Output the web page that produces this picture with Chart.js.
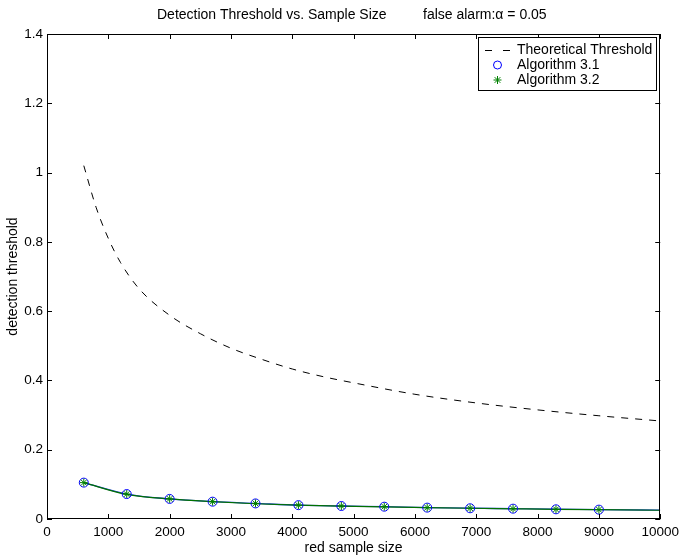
<!DOCTYPE html>
<html>
<head>
<meta charset="utf-8">
<script src="https://cdn.jsdelivr.net/npm/chart.js@4.4.1/dist/chart.umd.min.js"></script>
<style>
  html, body { margin: 0; padding: 0; background: #fff; }
  #wrap { width: 684px; height: 557px; }
</style>
</head>
<body>
<div id="wrap"><canvas id="thrCanvas" width="684" height="557"></canvas></div>
<script>
// theoretical threshold (dashed curve)
var sizeTheory = [600, 800, 1000, 1200, 1500, 2000, 2500, 3000, 3500, 4000, 4500, 5000, 6000, 7000, 8000, 9000, 10000];
var thrTheory = [1.02, 0.90, 0.81, 0.74, 0.665, 0.588, 0.535, 0.493, 0.461, 0.433, 0.411, 0.393, 0.36, 0.335, 0.315, 0.298, 0.283];

// algorithm markers
var sizeAlg = [600, 1300, 2000, 2700, 3400, 4100, 4800, 5500, 6200, 6900, 7600, 8300, 9000];
var thrAlg31 = [0.105, 0.072, 0.058, 0.050, 0.045, 0.040, 0.0375, 0.0355, 0.0328, 0.031, 0.0298, 0.028, 0.027];
var thrAlg32 = [0.105, 0.072, 0.058, 0.050, 0.045, 0.040, 0.0375, 0.0355, 0.0328, 0.031, 0.0298, 0.028, 0.027];

// fitted curves under the markers (run on to 10000)
var sizeFit = [600, 1300, 2000, 2700, 3400, 4100, 4800, 5500, 6200, 6900, 7600, 8300, 9000, 10000];
var thrFit31 = [0.105, 0.072, 0.058, 0.050, 0.045, 0.040, 0.0375, 0.0355, 0.0330, 0.0312, 0.0298, 0.0283, 0.0270, 0.0255];
var thrFit32 = [0.105, 0.071, 0.058, 0.050, 0.044, 0.040, 0.0372, 0.0350, 0.0328, 0.0310, 0.0295, 0.0280, 0.0268, 0.0252];

var xTicks = [0, 1000, 2000, 3000, 4000, 5000, 6000, 7000, 8000, 9000, 10000];
var yTicks = [0, 0.2, 0.4, 0.6, 0.8, 1, 1.2, 1.4];

var FAMILY = "'Liberation Sans', Arial, Helvetica, sans-serif";
var FONT = "14px " + FAMILY;

var pairs = function (xs, ys) {
    var out = [];
    for (var i = 0; i < xs.length; i++) out.push({ x: xs[i], y: ys[i] });
    return out;
};

// box, inward ticks, titles and legend in the old matlab look
var matlabFrame = {
    id: 'matlabFrame',
    afterDatasetsDraw: function (chart) {
        var ctx = chart.ctx, a = chart.chartArea;
        var xs = chart.scales.x, ys = chart.scales.y;
        ctx.save();
        ctx.strokeStyle = '#000';
        ctx.lineWidth = 1;
        ctx.strokeRect(Math.round(a.left) + 0.5, Math.round(a.top) + 0.5,
            Math.round(a.right - a.left) - 1, Math.round(a.bottom - a.top) - 1);
        ctx.beginPath();
        xTicks.forEach(function (v) {
            var px = Math.round(xs.getPixelForValue(v)) + 0.5;
            ctx.moveTo(px, a.bottom); ctx.lineTo(px, a.bottom - 5);
            ctx.moveTo(px, a.top); ctx.lineTo(px, a.top + 5);
        });
        yTicks.forEach(function (v) {
            var py = Math.round(ys.getPixelForValue(v)) + 0.5;
            ctx.moveTo(a.left, py); ctx.lineTo(a.left + 5, py);
            ctx.moveTo(a.right, py); ctx.lineTo(a.right - 5, py);
        });
        ctx.stroke();
        ctx.restore();
    },
    afterDraw: function (chart) {
        var ctx = chart.ctx, a = chart.chartArea;
        var ds = chart.data.datasets;
        ctx.save();
        ctx.fillStyle = '#000';
        ctx.font = FONT;
        ctx.textBaseline = 'middle';
        ctx.textAlign = 'left';
        ctx.fillText('Detection Threshold vs. Sample Size', 157, 15);
        ctx.fillText('false alarm:\u03b1 = 0.05', 423, 15);

        ctx.textAlign = 'center';
        ctx.fillText('red sample size', (a.left + a.right) / 2, 548);
        ctx.save();
        ctx.translate(13, (a.top + a.bottom) / 2);
        ctx.rotate(-Math.PI / 2);
        ctx.fillText('detection threshold', 0, 0);
        ctx.restore();

        // legend
        var lx = 478, ly = 37, lw = 178, lh = 53;
        ctx.fillStyle = '#fff';
        ctx.fillRect(lx, ly, lw, lh);
        ctx.strokeStyle = '#000';
        ctx.lineWidth = 1;
        ctx.strokeRect(lx + 0.5, ly + 0.5, lw, lh);

        var rows = [50, 65, 80];
        ctx.fillStyle = '#000';
        ctx.textAlign = 'left';
        // dashed sample
        ctx.beginPath();
        ctx.setLineDash([7, 11]);
        ctx.moveTo(485, rows[0] + 0.5); ctx.lineTo(510, rows[0] + 0.5);
        ctx.stroke();
        ctx.setLineDash([]);
        ctx.fillText(ds[0].label, 517, rows[0]);
        // circle
        ctx.beginPath();
        ctx.strokeStyle = '#0000ff';
        ctx.arc(497.5, rows[1], 4, 0, Math.PI * 2);
        ctx.stroke();
        ctx.fillText(ds[3].label, 517, rows[1]);
        // asterisk
        ctx.beginPath();
        ctx.strokeStyle = '#008000';
        var r = 4, cx = 497.5, cy = rows[2];
        for (var k = 0; k < 4; k++) {
            var ang = k * Math.PI / 4;
            ctx.moveTo(cx + r * Math.cos(ang), cy + r * Math.sin(ang));
            ctx.lineTo(cx - r * Math.cos(ang), cy - r * Math.sin(ang));
        }
        ctx.stroke();
        ctx.fillText(ds[4].label, 517, rows[2]);
        ctx.restore();
    }
};

var ctx = document.getElementById('thrCanvas').getContext('2d');
new Chart(ctx, {
    type: 'scatter',
    data: {
        datasets: [{
            label: 'Theoretical Threshold',
            data: pairs(sizeTheory, thrTheory),
            showLine: true,
            borderColor: '#000',
            borderWidth: 1,
            borderDash: [7, 7],
            pointRadius: 0,
            cubicInterpolationMode: 'monotone',
            order: 5
        }, {
            label: 'fit 3.1',
            data: pairs(sizeFit, thrFit31),
            showLine: true,
            borderColor: '#2040e0',
            borderWidth: 1.3,
            pointRadius: 0,
            cubicInterpolationMode: 'monotone',
            order: 4
        }, {
            label: 'fit 3.2',
            data: pairs(sizeFit, thrFit32),
            showLine: true,
            borderColor: '#007000',
            borderWidth: 1.2,
            pointRadius: 0,
            cubicInterpolationMode: 'monotone',
            order: 3
        }, {
            label: 'Algorithm 3.1',
            data: pairs(sizeAlg, thrAlg31),
            showLine: false,
            pointStyle: 'circle',
            pointRadius: 4.5,
            borderColor: '#0000ff',
            backgroundColor: 'rgba(0,0,0,0)',
            pointBorderWidth: 1,
            order: 2
        }, {
            label: 'Algorithm 3.2',
            data: pairs(sizeAlg, thrAlg32),
            showLine: false,
            pointStyle: 'star',
            pointRadius: 4,
            borderColor: '#008000',
            backgroundColor: '#008000',
            pointBorderWidth: 1,
            order: 1
        }]
    },
    options: {
        responsive: false,
        animation: false,
        devicePixelRatio: 1,
        layout: { padding: { top: 34, right: 21, left: 0, bottom: 0 } },
        plugins: {
            legend: { display: false },
            title: { display: false },
            tooltip: { enabled: false }
        },
        scales: {
            x: {
                type: 'linear',
                min: 0, max: 10000,
                afterFit: function (s) { s.height = 38; },
                afterBuildTicks: function (s) { s.ticks = xTicks.map(function (v) { return { value: v }; }); },
                grid: { display: false, drawTicks: false, tickLength: 0 },
                border: { display: false },
                ticks: {
                    color: '#000',
                    font: { family: FAMILY, size: 13.5 },
                    padding: 5,
                    maxRotation: 0,
                    autoSkip: false,
                    callback: function (v) { return String(v); }
                }
            },
            y: {
                type: 'linear',
                min: 0, max: 1.4,
                afterFit: function (s) { s.width = 47; },
                afterBuildTicks: function (s) { s.ticks = yTicks.map(function (v) { return { value: v }; }); },
                grid: { display: false, drawTicks: false, tickLength: 0 },
                border: { display: false },
                ticks: {
                    color: '#000',
                    font: { family: FAMILY, size: 13.5 },
                    padding: 4,
                    autoSkip: false,
                    callback: function (v) { return String(Math.round(v * 10) / 10); }
                }
            }
        }
    },
    plugins: [matlabFrame]
});
</script>
</body>
</html>
